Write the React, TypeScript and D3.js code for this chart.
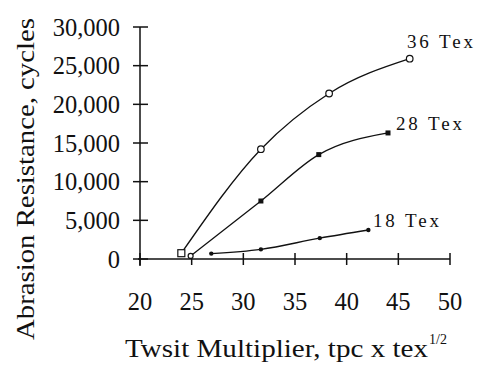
import React from "react";
import * as d3 from "d3";

const xTicks = [20, 25, 30, 35, 40, 45, 50];
const yTicks = [0, 5000, 10000, 15000, 20000, 25000, 30000];

const tex36X = [24, 31.7, 38.3, 46.1];
const tex36Y = [750, 14200, 21400, 25900];
const tex28X = [24.9, 31.7, 37.3, 44.0];
const tex28Y = [400, 7500, 13500, 16300];
const tex18X = [26.9, 31.7, 37.4, 42.1];
const tex18Y = [700, 1250, 2700, 3750];

const seriesNames = ["36 Tex", "28 Tex", "18 Tex"];

const W = 477;
const H = 371;
const FONT = '"Liberation Serif", "Times New Roman", Times, serif';

export default function App() {
  const x = d3.scaleLinear().domain([20, 50]).range([140, 450]);
  const y = d3.scaleLinear().domain([0, 30000]).range([259, 27]);
  const fmt = d3.format(",");

  const series = [
    { name: seriesNames[0], xs: tex36X, ys: tex36Y, marker: "open", lx: 407, ly: 48 },
    { name: seriesNames[1], xs: tex28X, ys: tex28Y, marker: "square", lx: 396, ly: 130 },
    { name: seriesNames[2], xs: tex18X, ys: tex18Y, marker: "dot", lx: 373, ly: 227 },
  ];

  const line = d3
    .line<[number, number]>()
    .x((d) => x(d[0]))
    .y((d) => y(d[1]))
    .curve(d3.curveMonotoneX);

  return (
    <svg
      width={W}
      height={H}
      style={{ position: "absolute", left: 0, top: 0, background: "#fff", fontFamily: FONT }}
    >
      <rect x={0} y={0} width={W} height={H} fill="#fff" />
      <line x1={x(20)} x2={x(20)} y1={y(30000)} y2={266} stroke="#111" strokeWidth={1.5} />
      <line x1={x(20) - 2} x2={x(50)} y1={y(0)} y2={y(0)} stroke="#111" strokeWidth={1.5} />
      {yTicks.map((t) => (
        <g key={"y" + t}>
          <line x1={133} x2={148} y1={y(t)} y2={y(t)} stroke="#111" strokeWidth={1.5} />
          <text x={120} y={y(t)} dy="0.35em" textAnchor="end" fontSize={24.5} fill="#111">
            {fmt(t)}
          </text>
        </g>
      ))}
      {xTicks.map((t) => (
        <g key={"x" + t}>
          <line x1={x(t)} x2={x(t)} y1={253} y2={265} stroke="#111" strokeWidth={1.5} />
          <text x={x(t)} y={310} textAnchor="middle" fontSize={24.5} fill="#111">
            {t}
          </text>
        </g>
      ))}
      {series.map((s) => {
        const pts: [number, number][] = s.xs.map((v, i) => [v, s.ys[i]]);
        return (
          <g key={s.name}>
            <path d={line(pts) || ""} fill="none" stroke="#111" strokeWidth={1.3} />
            {pts.map((p, i) => {
              const cx = x(p[0]);
              const cy = y(p[1]);
              if (s.marker === "open") {
                if (i === 0)
                  return (
                    <rect key={i} x={cx - 3.5} y={cy - 3.5} width={7} height={7} fill="#fff" stroke="#111" strokeWidth={1.2} />
                  );
                return <circle key={i} cx={cx} cy={cy} r={3.3} fill="#fff" stroke="#111" strokeWidth={1.2} />;
              }
              if (s.marker === "square") {
                if (i === 0)
                  return <circle key={i} cx={cx} cy={cy} r={2.5} fill="#fff" stroke="#111" strokeWidth={1.2} />;
                return <rect key={i} x={cx - 2.5} y={cy - 2.5} width={5} height={5} fill="#111" />;
              }
              return <circle key={i} cx={cx} cy={cy} r={2.2} fill="#111" />;
            })}
            <text
              x={s.lx}
              y={s.ly}
              fontSize={19}
              fill="#111"
              textLength={66}
              lengthAdjust="spacing"
            >
              {s.name}
            </text>
          </g>
        );
      })}
      <text x={125} y={357} fontSize={25} fill="#111" textLength={303} lengthAdjust="spacingAndGlyphs">
        Twsit Multiplier, tpc x tex
      </text>
      <text x={429} y={344} fontSize={14} fill="#111">
        1/2
      </text>
      <text
        transform={`translate(34,179) rotate(-90)`}
        textAnchor="middle"
        fontSize={25}
        fill="#111"
        textLength={322}
        lengthAdjust="spacingAndGlyphs"
      >
        Abrasion Resistance, cycles
      </text>
    </svg>
  );
}
